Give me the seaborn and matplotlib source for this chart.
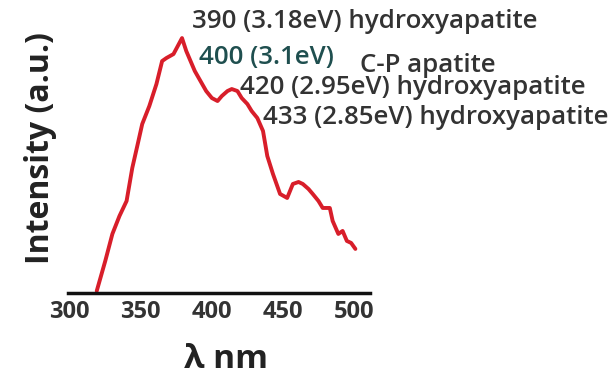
import numpy as np
import pandas as pd
import matplotlib as mpl

mpl.use('Agg')
import matplotlib.pyplot as plt
import seaborn as sns

## Data
wavelength = [319, 325, 330, 335, 340, 344, 348, 351, 356, 361, 365, 368, 373, 376, 379,
              382, 385, 388, 392, 396, 400, 404, 407, 411, 414, 418, 421, 425, 428, 432,
              436, 439, 443, 448, 453, 457, 461, 464, 468, 471, 475, 478, 483, 485, 489,
              492, 495, 498, 501]
intensity = [2, 32, 59, 77, 92, 125, 150, 169, 187, 209, 232, 235, 239, 247, 255,
             242, 232, 222, 212, 202, 195, 192, 197, 202, 204, 202, 195, 189, 182, 175,
             162, 137, 119, 99, 95, 109, 111, 109, 104, 99, 92, 85, 85, 72, 59,
             62, 52, 50, 44]

xticks = [300, 350, 400, 450, 500]

labels = ['390 (3.18eV) hydroxyapatite', '400 (3.1eV)', 'C-P apatite',
          '420 (2.95eV) hydroxyapatite', '433 (2.85eV) hydroxyapatite']
label_colors = ['#333333', '#1f4f4f', '#333333', '#333333', '#333333']

df = pd.DataFrame({'wavelength': wavelength, 'intensity': intensity})

## Plot
sns.set_style('white')
plt.rcParams['font.family'] = ['Open Sans', 'DejaVu Sans']

fig = plt.figure(figsize=(6.16, 3.76), dpi=100)
ax = fig.add_axes([0.110, 0.221, 0.490, 0.699])

sns.lineplot(data=df, x='wavelength', y='intensity', ax=ax, color='#d81e2a', linewidth=2.8)

ax.set_xlim(298.6, 511)
ax.set_ylim(0, 263)
ax.set_xticks(xticks)
ax.set_yticks([])
for s in ['top', 'right', 'left']:
    ax.spines[s].set_visible(False)
ax.spines['bottom'].set_linewidth(2.5)
ax.spines['bottom'].set_color('#111111')
ax.tick_params(axis='x', length=3, width=1.2, labelsize=17, colors='#333333', pad=2)
for t in ax.get_xticklabels():
    t.set_fontweight('bold')

ax.set_xlabel('λ nm', fontsize=24, fontweight='bold', color='#222222')
ax.xaxis.set_label_coords(0.523, -0.19)
ax.set_ylabel('Intensity (a.u.)', fontsize=23, fontweight='bold', color='#222222')
ax.yaxis.set_label_coords(-0.035, 0.55)

# annotation texts (figure pixel positions, left anchored)
pos = [(192, 22), (199, 57), (360, 65), (240, 88), (263, 118)]
for (px, py), txt, c in zip(pos, labels, label_colors):
    fig.text(px / 616, 1 - py / 376, txt, fontsize=18.6, fontweight='semibold', color=c,
             ha='left', va='center')

fig.savefig('out.png', dpi=100)
